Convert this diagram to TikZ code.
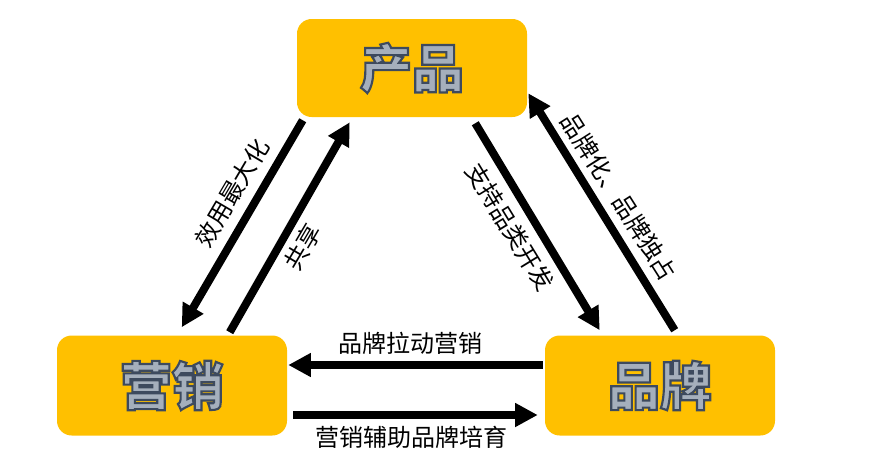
\documentclass[tikz,border=0pt]{standalone}
\usepackage{fontspec}
\setmainfont{Noto Sans CJK SC}
\usetikzlibrary{arrows.meta}
\definecolor{boxgold}{RGB}{255, 192, 0}
\definecolor{hatch}{RGB}{165, 175, 188}

% outlined block lettering
\newcommand\blocktext[1]{{\color{hatch}\special{pdf:literal direct 0.24 0.29 0.37 RG 2 Tr 1.6 w}#1\special{pdf:literal direct 0 Tr}}}

\tikzset{
  block/.style={fill=boxgold, rounded corners=11pt, minimum width=172.5pt, minimum height=75pt, inner sep=0pt, font=\fontsize{39}{42}\selectfont\bfseries},
  flow/.style={line width=6pt, -{Triangle[length=17pt,width=17pt]}},
  tag/.style={font=\fontsize{18}{20}\selectfont, inner sep=0pt},
}

\begin{document}
\begin{tikzpicture}[x=0.75pt, y=-0.75pt]
	\useasboundingbox (0,0) rectangle (871,472);

	% les trois blocs
	\node[block, minimum height=73.5pt] (prod) at (412,68) {\blocktext{产品}};
	\node[block] (mkt) at (172,385.5) {\blocktext{营销}};
	\node[block] (brand) at (660,385.5) {\blocktext{品牌}};

	% produit <-> marketing
	\draw[flow] ([shift={(6,3)}]prod.south west) -- ([shift={(125,-8)}]mkt.north west);
	\draw[flow] ([shift={(173,-3)}]mkt.north west) -- ([shift={(53,5)}]prod.south west);
	\node[tag, rotate=59.5] (utility) at (232,193) {效用最大化};
	\node[tag, rotate=59.5] (share) at (303,247) {共享};

	% produit <-> marque
	\draw[flow] ([shift={(-52,6)}]prod.south east) -- ([shift={(55,-5)}]brand.north west);
	\draw[flow] ([shift={(130,-5)}]brand.north west) -- ([shift={(1,-24)}]prod.south east);
	\node[tag, rotate=-58.5] (support) at (510,227) {支持品类开发};
	\node[tag, rotate=-57.6] (branding) at (619,197) {品牌化、品牌独占};

	% marque <-> marketing
	\draw[flow] ([shift={(-2,-20.5)}]brand.west) -- ([shift={(1,-20.5)}]mkt.east);
	\draw[flow] ([shift={(6,29.5)}]mkt.east) -- ([shift={(-7,29.5)}]brand.west);
	\node[tag] (pull) at (410,343) {品牌拉动营销};
	\node[tag] (assist) at (411,437) {营销辅助品牌培育};
\end{tikzpicture}
\end{document}
